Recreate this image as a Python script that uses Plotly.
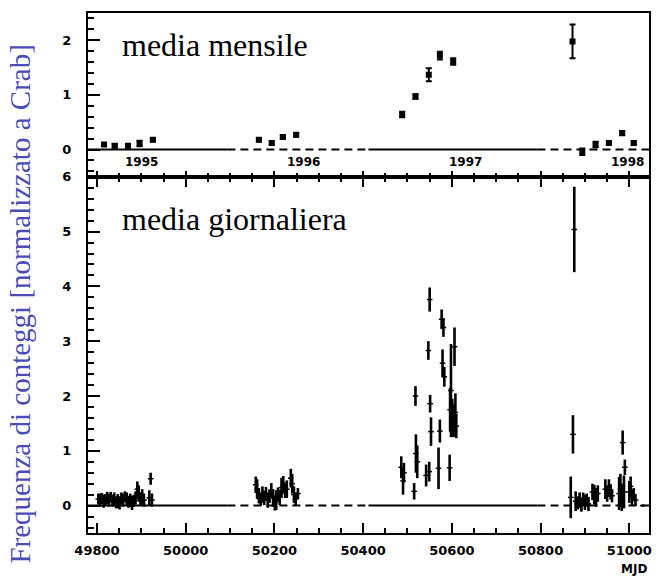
import plotly.graph_objects as go

# ---- monthly averages (top panel) ----
month_mjd = [49816, 49840, 49870, 49896, 49926,
             50165, 50194, 50219, 50249,
             50488, 50518, 50548, 50573, 50603,
             50872,
             50894, 50924, 50954, 50984, 51010]
month_rate = [0.09, 0.07, 0.07, 0.11, 0.18,
              0.18, 0.12, 0.23, 0.27,
              0.64, 0.97, 1.37, 1.72, 1.61,
              1.98,
              -0.04, 0.09, 0.12, 0.30, 0.12]
month_err = [0.02, 0.03, 0.03, 0.05, 0.03,
             0.03, 0.03, 0.03, 0.03,
             0.05, 0.04, 0.12, 0.07, 0.06,
             0.31,
             0.06, 0.05, 0.02, 0.04, 0.03]

# ---- daily averages (bottom panel) ----
day_mjd = [49803, 49807, 49811, 49815, 49819, 49823, 49827, 49831, 49835, 49839,
           49843, 49847, 49851, 49855, 49859, 49863, 49867, 49871, 49875, 49879,
           49883, 49887, 49891, 49894, 49898, 49902, 49906, 49918, 49921, 49924,
           50158, 50161, 50165, 50169, 50173, 50177, 50181, 50185, 50189, 50193,
           50197, 50201, 50204, 50208, 50212, 50216, 50220, 50224, 50228, 50237,
           50240, 50244, 50248, 50253,
           50486, 50490, 50492, 50515, 50518, 50519, 50522, 50542, 50547, 50549,
           50550, 50551, 50553, 50570, 50573, 50577, 50579, 50581, 50583, 50595,
           50596, 50598, 50601, 50604, 50606, 50608, 50610,
           50868, 50873, 50876, 50879, 50884, 50888, 50892, 50896, 50900, 50904,
           50908, 50917, 50921, 50925, 50929, 50946, 50950, 50954, 50958, 50961,
           50977, 50980, 50983, 50985, 50988, 50990, 51000, 51003, 51006, 51010,
           51014, 51030]
day_rate = [0.12, 0.10, 0.13, 0.08, 0.11, 0.14, 0.10, 0.15, 0.09, 0.12,
            0.06, 0.08, 0.05, 0.13, 0.10, 0.16, 0.12, 0.07, 0.10, 0.05,
            0.09, 0.14, 0.30, 0.22, 0.12, 0.16, 0.10, 0.14, 0.49, 0.10,
            0.38, 0.30, 0.18, 0.12, 0.20, 0.14, 0.22, 0.10, 0.17, 0.28,
            0.14, 0.05, 0.10, 0.20, 0.15, 0.33, 0.38, 0.28, 0.30, 0.50,
            0.40, 0.20, 0.12, 0.22,
            0.70, 0.45, 0.60, 0.26, 2.00, 0.95, 0.80, 0.55, 2.83, 0.62,
            3.76, 1.86, 1.35, 0.68, 1.36, 3.40, 2.60, 3.25, 2.35, 0.69,
            1.75, 2.10, 1.60, 1.55, 2.90, 1.70, 1.45,
            0.15, 1.30, 5.04, 0.08, 0.05, 0.10, 0.02, 0.12, 0.06, 0.10,
            0.03, 0.25, 0.20, 0.15, 0.22, 0.30, 0.22, 0.32, 0.25, 0.18,
            0.22, 0.30, 0.15, 1.15, 0.25, 0.70, 0.25, 0.35, 0.15, 0.20,
            0.10, 0.00]
day_err = [0.10, 0.12, 0.10, 0.12, 0.10, 0.11, 0.12, 0.10, 0.11, 0.12,
           0.11, 0.13, 0.12, 0.11, 0.12, 0.10, 0.12, 0.11, 0.12, 0.13,
           0.11, 0.12, 0.14, 0.15, 0.12, 0.14, 0.12, 0.14, 0.11, 0.12,
           0.15, 0.18, 0.14, 0.12, 0.15, 0.13, 0.12, 0.14, 0.12, 0.13,
           0.16, 0.14, 0.18, 0.13, 0.14, 0.18, 0.16, 0.14, 0.16, 0.17,
           0.18, 0.15, 0.12, 0.10,
           0.20, 0.25, 0.18, 0.15, 0.18, 0.35, 0.30, 0.20, 0.17, 0.18,
           0.22, 0.16, 0.26, 0.38, 0.21, 0.18, 0.25, 0.17, 0.18, 0.24,
           0.40, 0.85, 0.35, 0.30, 0.35, 0.35, 0.22,
           0.38, 0.35, 0.78, 0.18, 0.12, 0.14, 0.13, 0.12, 0.14, 0.12,
           0.13, 0.15, 0.18, 0.17, 0.15, 0.18, 0.15, 0.16, 0.14, 0.12,
           0.30, 0.28, 0.25, 0.22, 0.30, 0.14, 0.20, 0.18, 0.15, 0.12,
           0.10, 0.02]

# zero reference line: solid and dashed stretches (MJD)
zero_solid = [(49780, 50094), (50412, 50793)]
zero_dashed = [(50094, 50412), (50793, 51045)]

# year labels of the upper panel, placed at mid-year
year_mjd = [49900, 50266, 50631, 50996]
year_text = ["1995", "1996", "1997", "1998"]

x_range = [49779.8, 51044.4]
tick_font = dict(family="DejaVu Sans", size=13, color="black", weight="bold")


def segments(pairs):
    xs, ys = [], []
    for a, b in pairs:
        xs += [a, b, None]
        ys += [0, 0, None]
    return xs, ys


fig = go.Figure()

for xa, ya in (("x", "y"), ("x2", "y2")):
    sx, sy = segments(zero_solid)
    fig.add_trace(go.Scatter(x=sx, y=sy, mode="lines", xaxis=xa, yaxis=ya,
                             line=dict(color="black", width=2), showlegend=False,
                             hoverinfo="skip"))
    dx, dy = segments(zero_dashed)
    fig.add_trace(go.Scatter(x=dx, y=dy, mode="lines", xaxis=xa, yaxis=ya,
                             line=dict(color="black", width=2, dash="8px,5px"),
                             showlegend=False, hoverinfo="skip"))

# daily points: vertical error bars with a short tick at the value
fig.add_trace(go.Scatter(
    x=day_mjd, y=day_rate, mode="markers", xaxis="x", yaxis="y",
    marker=dict(symbol="line-ew", size=4, color="black",
                line=dict(color="black", width=1.5)),
    error_y=dict(type="data", array=day_err, visible=True, color="black",
                 thickness=2.6, width=0),
    showlegend=False))

# monthly points
fig.add_trace(go.Scatter(
    x=month_mjd, y=month_rate, mode="markers", xaxis="x2", yaxis="y2",
    marker=dict(symbol="square", size=6, color="black"),
    error_y=dict(type="data", array=month_err, visible=True, color="black",
                 thickness=2, width=3),
    showlegend=False))

axis_common = dict(showline=True, linecolor="black", linewidth=2,
                   showgrid=False, zeroline=False, tickcolor="black",
                   tickwidth=2, ticks="inside")

fig.update_layout(
    width=657, height=578,
    margin=dict(l=88, r=5, t=13, b=45),
    paper_bgcolor="white", plot_bgcolor="white",
    xaxis=dict(**axis_common, domain=[0, 1], anchor="y", range=x_range,
               tick0=49800, dtick=200, ticklen=10, mirror="ticks",
               tickformat="d",
               minor=dict(dtick=50, tick0=49800, ticklen=5, ticks="inside",
                          tickcolor="black", tickwidth=2),
               tickfont=tick_font, ticklabelstandoff=4),
    yaxis=dict(**axis_common, domain=[0, 0.685], anchor="x", range=[-0.5, 6],
               tick0=0, dtick=1, ticklen=12, mirror=True,
               minor=dict(dtick=0.2, tick0=0, ticklen=6, ticks="inside",
                          tickcolor="black", tickwidth=2),
               tickfont=tick_font, ticklabelstandoff=12),
    xaxis2=dict(**axis_common, domain=[0, 1], anchor="y2", range=x_range,
                matches="x", tick0=49800, dtick=200, ticklen=6, mirror=True,
                showticklabels=False,
                minor=dict(dtick=50, tick0=49800, ticklen=4, ticks="inside",
                           tickcolor="black", tickwidth=2)),
    yaxis2=dict(**axis_common, domain=[0.685, 1], anchor="x2",
                range=[-0.5, 2.5], tick0=0, dtick=1, ticklen=12, mirror=True,
                minor=dict(dtick=0.2, tick0=0, ticklen=6, ticks="inside",
                           tickcolor="black", tickwidth=2),
                tickfont=tick_font, ticklabelstandoff=12),
)

annotations = []
for xm, t in zip(year_mjd, year_text):
    annotations.append(dict(x=xm, y=-0.22, xref="x2", yref="y2", text=t,
                            showarrow=False,
                            font=dict(family="DejaVu Sans", size=12,
                                      color="black", weight="bold")))
annotations += [
    dict(x=0.0567, y=0.938, xref="paper", yref="paper", text="media mensile",
         xanchor="left", yanchor="middle", showarrow=False,
         font=dict(family="Liberation Serif", size=32, color="black")),
    dict(x=0.0567, y=0.604, xref="paper", yref="paper",
         text="media giornaliera", xanchor="left", yanchor="middle",
         showarrow=False,
         font=dict(family="Liberation Serif", size=32, color="black")),
    dict(x=-0.1206, y=0.44, xref="paper", yref="paper",
         text="Frequenza di conteggi [normalizzato a Crab]", textangle=-90,
         xanchor="center", yanchor="middle", showarrow=False,
         font=dict(family="Liberation Serif", size=29, color="#4c4cb8")),
    dict(x=1.0, y=-0.069, xref="paper", yref="paper", text="MJD",
         xanchor="right", yanchor="middle", showarrow=False,
         font=dict(family="DejaVu Sans", size=12, color="black",
                   weight="bold")),
]
fig.update_layout(annotations=annotations)

fig.write_html("out.html")
